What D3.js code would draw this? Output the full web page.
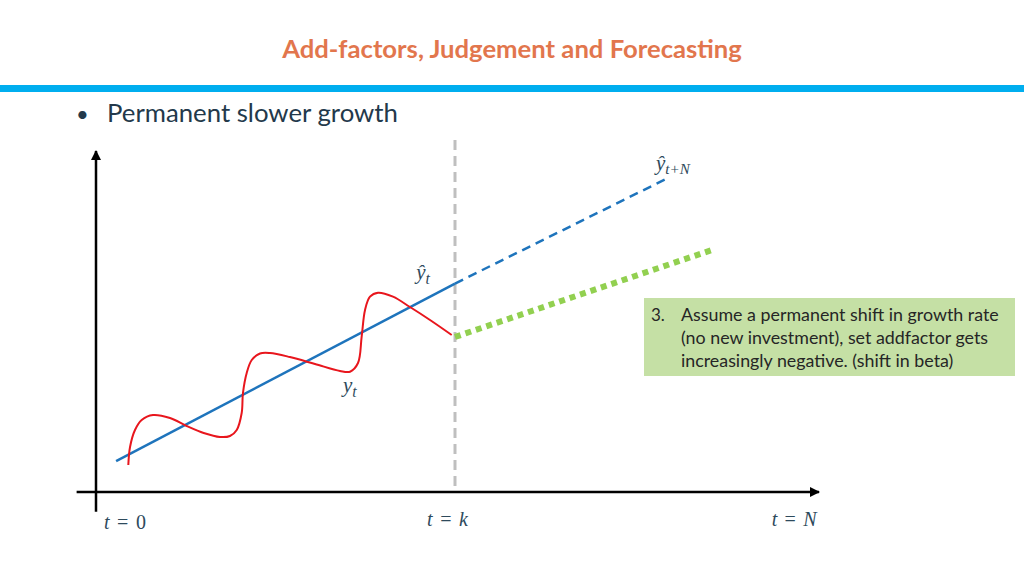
<!DOCTYPE html>
<html>
<head>
<meta charset="utf-8">
<script src="https://cdn.jsdelivr.net/npm/d3@7"></script>
<style>
  html, body { margin: 0; padding: 0; background: #ffffff; }
  svg { display: block; }
</style>
</head>
<body>
<svg id="chart" width="1024" height="576"></svg>
<script>
// ---------- data (chart units: t on x, value on y) ----------
const titleText = "Add-factors, Judgement and Forecasting";
const bulletText = "Permanent slower growth";
const boxNumber = "3.";
const boxLines = [
  "Assume a permanent shift in growth rate",
  "(no new investment), set addfactor gets",
  "increasingly negative. (shift in beta)"
];

// observed series y_t (red)
const actualT = [4.50, 4.74, 5.43, 6.36, 7.94, 10.31, 12.63, 15.0, 17.27, 18.66, 19.60, 20.29, 20.47, 20.99, 21.69, 22.84, 24.23, 27.0, 30.5, 33.98, 35.38, 36.49, 37.0, 37.47, 38.16, 39.28, 41.36, 43.73, 46.52, 49.54];
const actualV = [7.94, 13.24, 18.24, 21.18, 22.65, 21.76, 19.41, 17.35, 16.18, 16.47, 18.24, 23.24, 29.12, 35.0, 38.82, 40.74, 40.88, 39.7, 37.65, 35.59, 35.38, 37.94, 45.68, 53.53, 57.44, 58.62, 57.44, 54.41, 50.59, 46.18];

// fitted trend ŷ_t (blue solid) and forecast ŷ_{t+N} (blue dashed)
const fitT = [2.8, 50];
const fitV = [9.1, 61.3];
const forecastT = [50, 79.7];
const forecastV = [61.3, 92.4];

// add-factor adjusted path (green dotted)
const adjustedT = [50, 85.8];
const adjustedV = [45.6, 71.2];

// axis marks
const tickNames = ["t = 0", "t = k", "t = N"];
const tickT = [1.1, 46.1, 94.1];
const kT = 50;

// ---------- layout ----------
const svg = d3.select("#chart");
const x = d3.scaleLinear().domain([0, 100]).range([96, 814]);
const y = d3.scaleLinear().domain([0, 100]).range([492, 152]);

function fit(sel, target) {
  const node = sel.node();
  let fs = parseFloat(sel.attr("font-size"));
  const len = node.getComputedTextLength();
  if (len > 0) sel.attr("font-size", (fs * target / len).toFixed(2));
}

// title
const title = svg.append("text")
  .attr("x", 512).attr("y", 58)
  .attr("text-anchor", "middle")
  .attr("font-family", "Lato, 'Open Sans', sans-serif")
  .attr("font-weight", "bold")
  .attr("font-size", 24)
  .attr("fill", "#E2764D")
  .text(titleText);
fit(title, 460);

// blue band
svg.append("rect").attr("x", 0).attr("y", 85).attr("width", 1024).attr("height", 7).attr("fill", "#00AEEF");

// bullet
svg.append("text")
  .attr("x", 76).attr("y", 122)
  .attr("font-family", "Lato, sans-serif").attr("font-size", 22)
  .attr("fill", "#23394B").text("•");
const bt = svg.append("text")
  .attr("x", 107).attr("y", 122)
  .attr("font-family", "Lato, 'Open Sans', sans-serif")
  .attr("font-size", 24)
  .attr("fill", "#23394B")
  .text(bulletText);
fit(bt, 291);

// vertical dashed line at t = k
svg.append("line")
  .attr("x1", x(kT)).attr("x2", x(kT))
  .attr("y1", y(103.5)).attr("y2", y(0.5))
  .attr("stroke", "#BFBFBF").attr("stroke-width", 3)
  .attr("stroke-dasharray", "10,6");

// axes
const defs = svg.append("defs");
defs.append("marker").attr("id", "arrow")
  .attr("viewBox", "0 0 10 10").attr("refX", 9).attr("refY", 5)
  .attr("markerWidth", 4).attr("markerHeight", 4)
  .attr("orient", "auto")
  .append("path").attr("d", "M0,0 L10,5 L0,10 Z").attr("fill", "#000");

svg.append("line")
  .attr("x1", x(-2.7)).attr("x2", x(100.7))
  .attr("y1", y(0)).attr("y2", y(0))
  .attr("stroke", "#000").attr("stroke-width", 2.5)
  .attr("marker-end", "url(#arrow)");
svg.append("line")
  .attr("x1", x(0)).attr("x2", x(0))
  .attr("y1", y(-5.8)).attr("y2", y(100.3))
  .attr("stroke", "#000").attr("stroke-width", 2.5)
  .attr("marker-end", "url(#arrow)");

// lines
const line = d3.line().x(d => x(d[0])).y(d => y(d[1]));
const zip = (a, b) => a.map((v, i) => [v, b[i]]);

svg.append("path")
  .datum(zip(forecastT, forecastV))
  .attr("d", line)
  .attr("fill", "none").attr("stroke", "#1E74BC").attr("stroke-width", 2.5)
  .attr("stroke-dasharray", "9,6");

svg.append("path")
  .datum(zip(adjustedT, adjustedV))
  .attr("d", line)
  .attr("fill", "none").attr("stroke", "#92D050").attr("stroke-width", 6)
  .attr("stroke-dasharray", "6,5");

svg.append("path")
  .datum(zip(fitT, fitV))
  .attr("d", line)
  .attr("fill", "none").attr("stroke", "#1E74BC").attr("stroke-width", 2.5);

svg.append("path")
  .datum(zip(actualT, actualV))
  .attr("d", d3.line().x(d => x(d[0])).y(d => y(d[1])).curve(d3.curveCatmullRom.alpha(0.5)))
  .attr("fill", "none").attr("stroke", "#E8161D").attr("stroke-width", 2);

// math labels
const mathFont = "'Liberation Serif', 'DejaVu Serif', serif";
const mathColor = "#2E4A5C";
function mathLabel(tx, vy, base, sub, size, subScale) {
  const t = svg.append("text")
    .attr("x", x(tx)).attr("y", y(vy))
    .attr("font-family", mathFont).attr("font-style", "italic")
    .attr("font-size", size).attr("fill", mathColor);
  t.append("tspan").text(base);
  t.append("tspan").attr("font-size", size * subScale).attr("dy", size * 0.22).text(sub);
  return t;
}
mathLabel(44.6, 62.6, "ŷ", "t", 21, 0.75);
mathLabel(34.4, 29.4, "y", "t", 21, 0.75);
mathLabel(78.0, 94.8, "ŷ", "t+N", 21, 0.72);

// tick labels on t-axis
const tickBase = [y(-10.8), y(-10.0), y(-10.0)];
const tickWidth = [42, 41, 45];
tickNames.forEach((s, i) => {
  const parts = s.split(" = ");
  const t = svg.append("text")
    .attr("x", x(tickT[i])).attr("y", tickBase[i])
    .attr("font-family", mathFont).attr("font-size", 20).attr("fill", mathColor)
    .attr("textLength", tickWidth[i]).attr("lengthAdjust", "spacing");
  t.append("tspan").attr("font-style", "italic").text(parts[0]);
  t.append("tspan").text(" = ");
  t.append("tspan").attr("font-style", /\d/.test(parts[1]) ? "normal" : "italic").text(parts[1]);
});

// annotation box
svg.append("rect")
  .attr("x", 644).attr("y", 298).attr("width", 371).attr("height", 78)
  .attr("fill", "#C5E0A5");
svg.append("text")
  .attr("x", 651).attr("y", 321)
  .attr("font-family", "Lato, 'Open Sans', sans-serif").attr("font-size", 17)
  .attr("fill", "#262626").text(boxNumber);
let boxFs = 17;
boxLines.forEach((s, i) => {
  const t = svg.append("text")
    .attr("x", 681).attr("y", 321 + i * 23)
    .attr("font-family", "Lato, 'Open Sans', sans-serif").attr("font-size", boxFs)
    .attr("fill", "#262626").text(s);
  if (i === 0) { fit(t, 318); boxFs = parseFloat(t.attr("font-size")); }
});
</script>
</body>
</html>
